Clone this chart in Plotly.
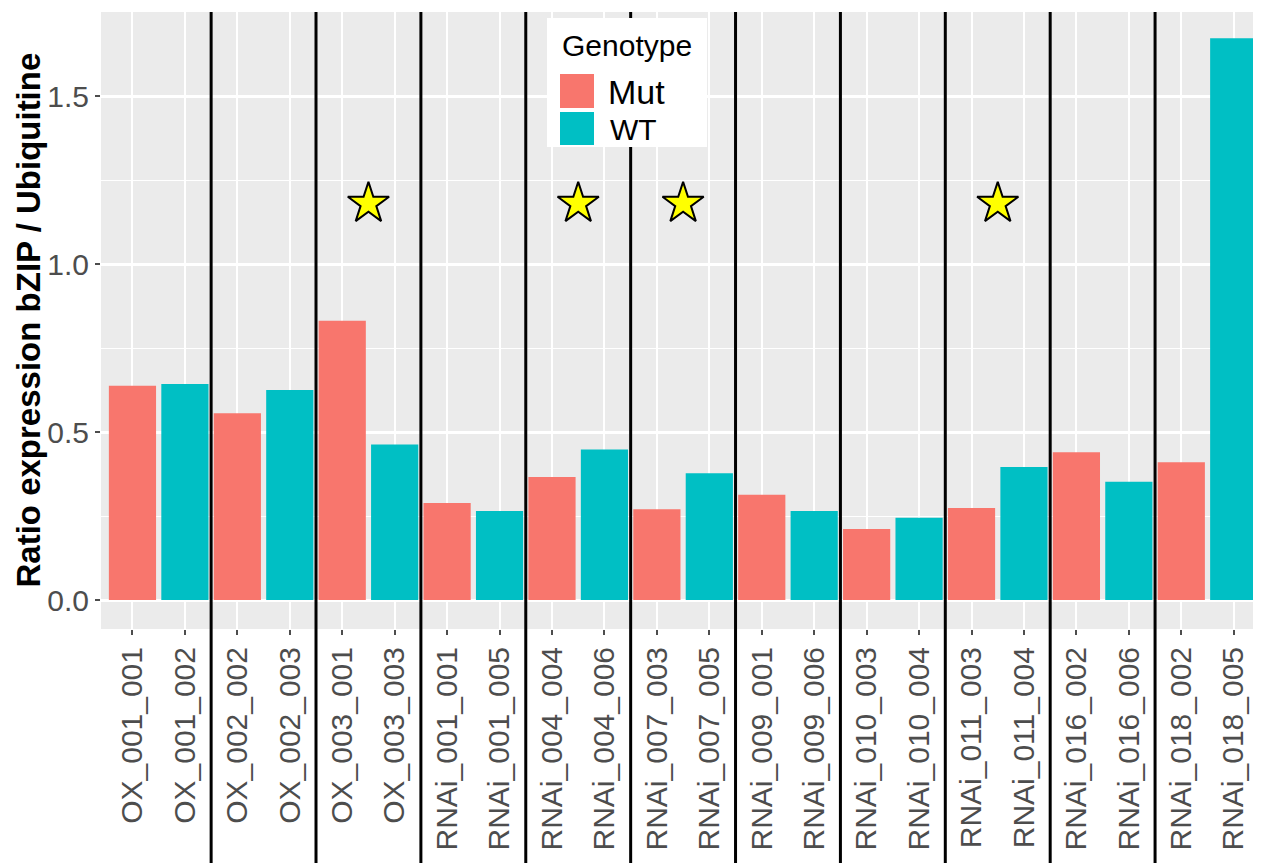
import plotly.graph_objects as go

# sample ids, genotype of each sample and measured ratio
samples = ['OX_001_001', 'OX_001_002', 'OX_002_002', 'OX_002_003', 'OX_003_001', 'OX_003_003',
           'RNAi_001_001', 'RNAi_001_005', 'RNAi_004_004', 'RNAi_004_006', 'RNAi_007_003',
           'RNAi_007_005', 'RNAi_009_001', 'RNAi_009_006', 'RNAi_010_003', 'RNAi_010_004',
           'RNAi_011_003', 'RNAi_011_004', 'RNAi_016_002', 'RNAi_016_006', 'RNAi_018_002',
           'RNAi_018_005']
genotype = ['Mut', 'WT'] * 11
ratio = [0.638, 0.643, 0.556, 0.625, 0.831, 0.463, 0.289, 0.265, 0.366, 0.448, 0.270,
         0.377, 0.313, 0.265, 0.211, 0.245, 0.274, 0.396, 0.440, 0.352, 0.410, 1.672]

# lines marked with a star (pair index) and the height of the stars
starred_pairs = [2, 4, 5, 8]
star_level = 1.18

COLORS = {'Mut': '#F8766D', 'WT': '#00BFC4'}
FONT = 'Arial, Liberation Sans, sans-serif'

# plot area in page pixels; the page body adds an 8px offset
OFF = 8
L, T, W, H = 101, 12, 1160, 617
FW, FH = 1261, 863


def px_x(px):
    return (px - L) / W


def px_y(py):
    return (T + H - py) / H


fig = go.Figure()
for g in ['Mut', 'WT']:
    idx = [i for i, gg in enumerate(genotype) if gg == g]
    fig.add_trace(go.Bar(
        x=idx,
        y=[ratio[i] for i in idx],
        width=0.9,
        name=g,
        marker=dict(color=COLORS[g], line=dict(width=0)),
        showlegend=False
    ))

fig.add_trace(go.Scatter(
    x=[2 * p + 0.5 for p in starred_pairs],
    y=[star_level] * len(starred_pairs),
    mode='markers',
    marker=dict(symbol='star', size=31, color='#FFFF00', line=dict(color='black', width=2)),
    showlegend=False
))

shapes = []
# separators between the lines
for b in range(1, len(samples) - 1, 2):
    shapes.append(dict(type='line', xref='x', yref='paper', x0=b + 0.5, x1=b + 0.5,
                       y0=-0.4, y1=1, line=dict(color='black', width=3), layer='above'))

# hand made legend (ggplot style, large keys)
shapes.append(dict(type='rect', xref='paper', yref='paper', x0=px_x(547), x1=px_x(707),
                   y0=px_y(147), y1=px_y(18), fillcolor='white', line=dict(width=0), layer='above'))
shapes.append(dict(type='rect', xref='paper', yref='paper', x0=px_x(560), x1=px_x(594),
                   y0=px_y(108), y1=px_y(74), fillcolor=COLORS['Mut'], line=dict(width=0), layer='above'))
shapes.append(dict(type='rect', xref='paper', yref='paper', x0=px_x(560), x1=px_x(594),
                   y0=px_y(145), y1=px_y(112), fillcolor=COLORS['WT'], line=dict(width=0), layer='above'))

annotations = [
    dict(text='Genotype', xref='paper', yref='paper', x=px_x(560), y=px_y(45), xanchor='left',
         yanchor='middle', showarrow=False, font=dict(family=FONT, size=30, color='black')),
    dict(text='Mut', xref='paper', yref='paper', x=px_x(606), y=px_y(92), xanchor='left',
         yanchor='middle', showarrow=False, font=dict(family=FONT, size=34, color='black')),
    dict(text='WT', xref='paper', yref='paper', x=px_x(608), y=px_y(129), xanchor='left',
         yanchor='middle', showarrow=False, font=dict(family=FONT, size=30, color='black')),
    dict(text='<b>Ratio expression bZIP / Ubiquitine</b>', xref='paper', yref='paper',
         x=px_x(28), y=0.5, xanchor='center', yanchor='middle', textangle=-90, showarrow=False,
         borderpad=0, font=dict(family=FONT, size=33, color='black')),
]

fig.update_layout(
    width=FW, height=FH,
    margin=dict(l=L - OFF, r=FW - (L - OFF) - W, t=T - OFF, b=FH - (T - OFF) - H, autoexpand=False),
    paper_bgcolor='white',
    plot_bgcolor='#EBEBEB',
    barmode='overlay',
    shapes=shapes,
    annotations=annotations,
    showlegend=False,
    xaxis=dict(
        range=[-0.6, 21.52],
        automargin=False,
        tickmode='array',
        tickvals=list(range(len(samples))),
        ticktext=samples,
        tickangle=-90,
        tickfont=dict(family=FONT, size=30, color='#4D4D4D'),
        ticks='outside', ticklen=5, tickwidth=2, tickcolor='#4D4D4D',
        showgrid=True, gridcolor='white', gridwidth=2,
        zeroline=False, showline=False
    ),
    yaxis=dict(
        range=[-0.0863, 1.75],
        automargin=False,
        tickmode='array',
        tickvals=[0, 0.5, 1.0, 1.5],
        ticktext=['0.0', '0.5', '1.0', '1.5'],
        tickfont=dict(family=FONT, size=30, color='#4D4D4D'),
        ticks='outside', ticklen=5, tickwidth=2, tickcolor='#4D4D4D',
        showgrid=True, gridcolor='white', gridwidth=2.5,
        minor=dict(tickvals=[0.25, 0.75, 1.25], showgrid=True, gridcolor='white', gridwidth=1.2, ticks=''),
        zeroline=False, showline=False
    ),
)

fig.write_html("out.html")
